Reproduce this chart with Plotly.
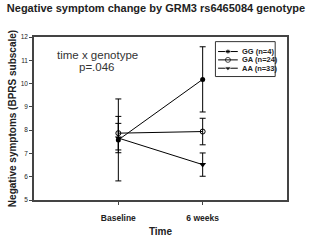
import plotly.graph_objects as go

time_labels = ["Baseline", "6 weeks"]
time_pos = [1, 2]
series_names = ["GG (n=4)", "GA (n=24)", "AA (n=33)"]
gg_mean = [7.58, 10.18]
gg_err = [1.76, 1.40]
ga_mean = [7.87, 7.94]
ga_err = [0.72, 0.57]
aa_mean = [7.66, 6.52]
aa_err = [0.63, 0.50]
y_ticks = [5, 6, 7, 8, 9, 10, 11, 12]

W, H = 312, 248
ML, MR, MT, MB = 30, 25, 37, 35
PW, PH = W - ML - MR, H - MT - MB


def px_x(p):
    return (p - ML) / PW


def px_y(p):
    return (H - MB - p) / PH


fig = go.Figure()
markers = [
    dict(symbol="circle", color="black", size=5),
    dict(symbol="circle-open", color="black", size=5, line=dict(width=1)),
    dict(symbol="triangle-down", color="black", size=6),
]
data = [(gg_mean, gg_err), (ga_mean, ga_err), (aa_mean, aa_err)]
for name, (m, e), mk in zip(series_names, data, markers):
    fig.add_trace(go.Scatter(
        x=time_pos, y=m, name=name, mode="lines+markers",
        line=dict(color="black", width=1), marker=mk, showlegend=False,
        error_y=dict(type="data", array=e, visible=True, color="black", thickness=1, width=3),
    ))

# compact legend drawn on an overlay axis in paper-like coordinates
leg_x0, leg_x1, leg_txt = px_x(217), px_x(237), px_x(239)
leg_rows = [px_y(52.7), px_y(61.7), px_y(70.7)]
for name, mk, ly in zip(series_names, markers, leg_rows):
    mk2 = dict(mk)
    mk2["size"] = [0, mk["size"], 0]
    fig.add_trace(go.Scatter(
        x=[leg_x0, (leg_x0 + leg_x1) / 2, leg_x1], y=[ly, ly, ly], xaxis="x2", yaxis="y2",
        mode="lines+markers", line=dict(color="black", width=1), marker=mk2,
        showlegend=False, hoverinfo="skip"))
    fig.add_annotation(text="<b>%s</b>" % name, x=leg_txt, y=ly, xref="paper", yref="paper",
                       xanchor="left", yanchor="middle", showarrow=False,
                       font=dict(size=7.5, color="#222"))
fig.add_shape(type="rect", xref="paper", yref="paper", x0=px_x(214.3), x1=px_x(275),
              y0=px_y(79.7), y1=px_y(42), line=dict(color="#333", width=1))

fig.update_layout(
    width=W, height=H,
    margin=dict(l=ML, r=MR, t=MT, b=MB),
    paper_bgcolor="white", plot_bgcolor="white",
    font=dict(family="Liberation Sans, Arial, sans-serif", color="black"),
    title=dict(text="<b>Negative symptom change by GRM3 rs6465084 genotype</b>",
               x=0.5, xanchor="center", y=0.968, yanchor="middle",
               font=dict(size=11, color="#222")),
    showlegend=False,
    xaxis=dict(range=[0, 3], tickvals=time_pos, ticktext=["<b>%s</b>" % t for t in time_labels],
               showline=True, linecolor="#444", linewidth=1.5, mirror=True,
               ticks="outside", ticklen=3, tickcolor="#444", showgrid=False, zeroline=False,
               tickfont=dict(size=8.5, color="#222"), ticklabelstandoff=6,
               title=dict(text="<b>Time</b>", font=dict(size=10, color="#222"), standoff=6)),
    yaxis=dict(range=[5, 12], tickvals=y_ticks, showline=True, linecolor="#444", linewidth=1.5,
               mirror=True, ticks="outside", ticklen=3, tickcolor="#444", showgrid=False,
               zeroline=False, tickfont=dict(size=6.5, color="#222"),
               title=dict(text="<b>Negative symptoms (BPRS subscale)</b>",
                          font=dict(size=10, color="#222"), standoff=2)),
    xaxis2=dict(overlaying="x", range=[0, 1], visible=False, fixedrange=True),
    yaxis2=dict(overlaying="y", range=[0, 1], visible=False, fixedrange=True),
)
fig.add_annotation(text="time x genotype", x=px_x(94.5), y=px_y(56), xref="paper", yref="paper",
                   xanchor="center", yanchor="middle", showarrow=False,
                   font=dict(size=11.5, color="#333"))
fig.add_annotation(text="p=.046", x=px_x(94.5), y=px_y(69.5), xref="paper", yref="paper",
                   xanchor="center", yanchor="middle", showarrow=False,
                   font=dict(size=11.5, color="#333"))

fig.write_html("out.html")
